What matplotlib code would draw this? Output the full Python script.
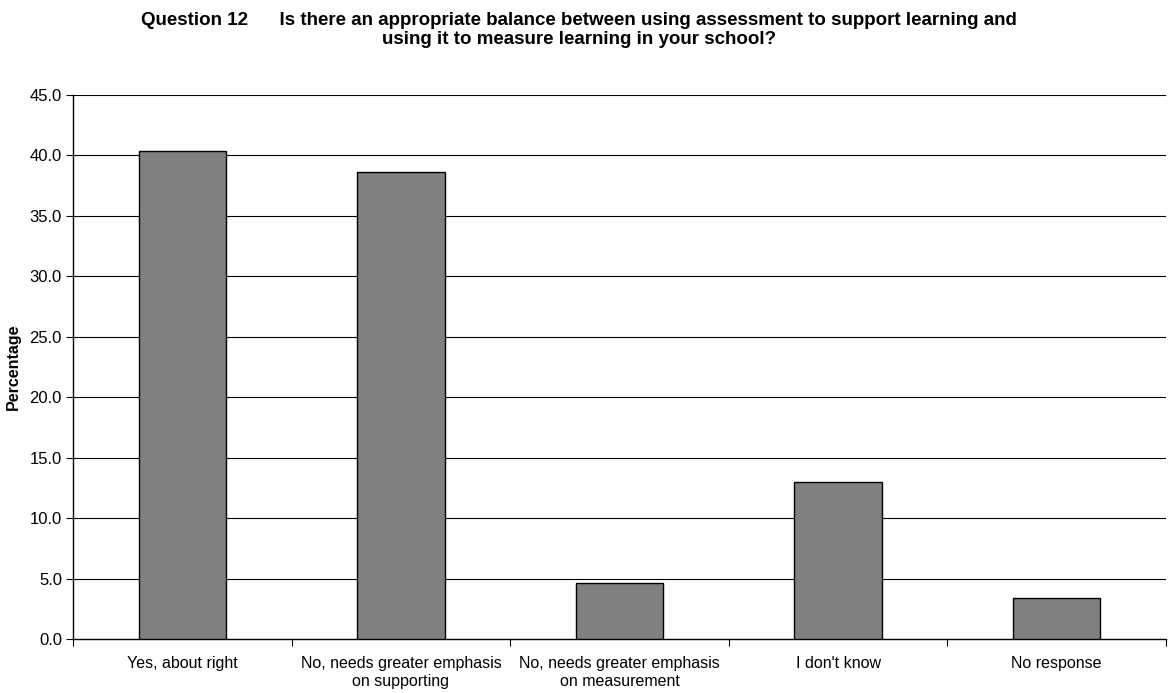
import numpy as np
import matplotlib.pyplot as plt

plt.rcParams['font.family'] = ['Liberation Sans', 'DejaVu Sans']

categories = ["Yes, about right",
              "No, needs greater emphasis\non supporting",
              "No, needs greater emphasis\non measurement",
              "I don't know",
              "No response"]
percentages = [40.4, 38.6, 4.6, 13.0, 3.4]
yticks = [0, 5, 10, 15, 20, 25, 30, 35, 40, 45]

fig = plt.figure(figsize=(11.7, 6.93), dpi=100)
ax = fig.add_axes([0.0624, 0.0779, 0.9342, 0.785])

x = np.arange(len(categories))
ax.bar(x, percentages, width=0.4, color='#808080', edgecolor='black',
       linewidth=1, zorder=3)

# horizontal gridlines
for v in yticks[1:]:
    ax.axhline(v, color='black', linewidth=0.8, zorder=1)

ax.set_xlim(-0.5, len(categories) - 0.5)
ax.set_ylim(0, 45)
ax.set_yticks(yticks)
ax.set_yticklabels(["%.1f" % v for v in yticks], fontsize=12)

# ticks sit on category boundaries, labels in the middle
ax.set_xticks(np.arange(len(categories) + 1) - 0.5)
ax.set_xticklabels([])
ax.set_xticks(x, minor=True)
ax.set_xticklabels(categories, minor=True, fontsize=11.5, linespacing=1.3)
ax.tick_params(axis='x', which='minor', length=0, pad=12)
ax.tick_params(axis='x', which='major', length=5, direction='out')
ax.tick_params(axis='y', length=5, direction='out', pad=3)

for s in ['top', 'right']:
    ax.spines[s].set_visible(False)
ax.spines['left'].set_linewidth(1)
ax.spines['bottom'].set_linewidth(1)

ax.set_ylabel("Percentage", fontsize=11.5, fontweight='bold', labelpad=6)

fig.text(0.495, 0.982,
         "Question 12      Is there an appropriate balance between using assessment to support learning and\n"
         "using it to measure learning in your school?",
         ha='center', va='top', fontsize=13.5, fontweight='bold', linespacing=1.15)

fig.savefig("out.png", dpi=100, facecolor='white')
